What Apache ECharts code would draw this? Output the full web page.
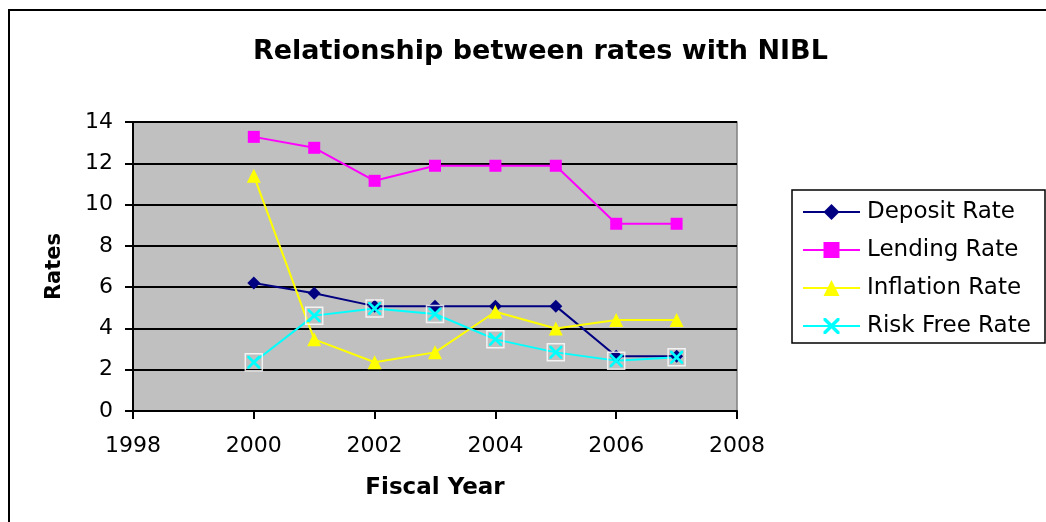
<!DOCTYPE html>
<html>
<head>
<meta charset="utf-8">
<script src="https://cdn.jsdelivr.net/npm/echarts@6/dist/echarts.min.js"></script>
<style>
  html, body { margin: 0; padding: 0; background: #fff; }
  #main { width: 1046px; height: 522px; }
</style>
</head>
<body>
<div id="main"></div>
<script>
// fiscal years and rates
var years = [2000, 2001, 2002, 2003, 2004, 2005, 2006, 2007];
var depositRate = [6.2, 5.7, 5.08, 5.08, 5.08, 5.08, 2.65, 2.65];
var lendingRate = [13.28, 12.75, 11.15, 11.88, 11.88, 11.88, 9.07, 9.07];
var inflationRate = [11.4, 3.47, 2.36, 2.84, 4.81, 4.0, 4.41, 4.41];
var riskFreeRate = [2.36, 4.62, 4.97, 4.7, 3.47, 2.84, 2.44, 2.6];

var seriesNames = ['Deposit Rate', 'Lending Rate', 'Inflation Rate', 'Risk Free Rate'];

function pairs(vals) {
  return years.map(function (y, i) { return [y, vals[i]]; });
}

var chart = echarts.init(document.getElementById('main'));

var xMark = 'path://M0,0 L3,0 L10,7 L17,0 L20,0 L20,3 L13,10 L20,17 L20,20 L17,20 L10,13 L3,20 L0,20 L0,17 L7,10 L0,3 Z';
var font = 'DejaVu Sans';

var option = {
  backgroundColor: '#fff',
  animation: false,
  title: {
    text: 'Relationship between rates with NIBL',
    left: 248,
    top: 33,
    textStyle: { fontFamily: font, fontSize: 27, fontWeight: 'bold', color: '#000' }
  },
  graphic: [{
    // outer chart frame
    type: 'rect',
    shape: { x: 9, y: 10, width: 1100, height: 600 },
    style: { fill: 'none', stroke: '#000', lineWidth: 2 },
    silent: true
  }, {
    // legend box
    type: 'rect',
    shape: { x: 792, y: 190, width: 253, height: 153 },
    style: { fill: '#fff', stroke: '#000', lineWidth: 1.5 },
    silent: true,
    z: -1
  }],
  legend: {
    data: seriesNames,
    orient: 'vertical',
    left: 802,
    top: 200,
    padding: 0,
    itemGap: 14,
    itemWidth: 57,
    itemHeight: 20,
    textStyle: { fontFamily: font, fontSize: 23, lineHeight: 24, color: '#000', padding: [0, 0, 0, 2] }
  },
  grid: {
    left: 133,
    right: 309,
    top: 122,
    bottom: 111,
    show: true,
    backgroundColor: '#c0c0c0',
    borderColor: '#808080',
    borderWidth: 1.5
  },
  xAxis: {
    type: 'value',
    min: 1998,
    max: 2008,
    interval: 2,
    name: 'Fiscal Year',
    nameLocation: 'middle',
    nameGap: 66,
    nameTextStyle: { fontFamily: font, fontSize: 23, fontWeight: 'bold', color: '#000' },
    axisLine: { lineStyle: { color: '#000', width: 2 } },
    axisTick: { inside: false, length: 8, lineStyle: { color: '#000', width: 2 } },
    axisLabel: { fontFamily: font, fontSize: 22, color: '#000', margin: 24, formatter: function (v) { return String(v); } },
    splitLine: { show: false }
  },
  yAxis: {
    type: 'value',
    min: 0,
    max: 14,
    interval: 2,
    name: 'Rates',
    nameLocation: 'middle',
    nameGap: 68,
    nameRotate: 90,
    nameTextStyle: { fontFamily: font, fontSize: 21, fontWeight: 'bold', color: '#000' },
    axisLine: { show: true, lineStyle: { color: '#000', width: 2 } },
    axisTick: { show: true, inside: false, length: 8, lineStyle: { color: '#000', width: 2 } },
    axisLabel: { fontFamily: font, fontSize: 22, color: '#000', margin: 20 },
    splitLine: { lineStyle: { color: '#000', width: 2 } }
  },
  series: [
    {
      name: 'Deposit Rate', type: 'line', data: pairs(depositRate),
      symbol: 'diamond', symbolSize: 13,
      lineStyle: { color: '#000080', width: 2 },
      itemStyle: { color: '#000080' }
    },
    {
      name: 'Lending Rate', type: 'line', data: pairs(lendingRate),
      symbol: 'rect', symbolSize: 12,
      lineStyle: { color: '#ff00ff', width: 2 },
      itemStyle: { color: '#ff00ff' }
    },
    {
      name: 'Inflation Rate', type: 'line', data: pairs(inflationRate),
      symbol: 'triangle', symbolSize: 14,
      lineStyle: { color: '#ffff00', width: 2 },
      itemStyle: { color: '#ffff00' }
    },
    {
      name: 'Risk Free Rate', type: 'line', data: pairs(riskFreeRate),
      symbol: xMark, symbolSize: 13,
      lineStyle: { color: '#00ffff', width: 2 },
      itemStyle: { color: '#00ffff' }
    },
    {
      // white square boxes drawn around the risk free markers
      name: 'riskBox', type: 'scatter', data: pairs(riskFreeRate),
      symbol: 'rect', symbolSize: 17, silent: true,
      itemStyle: { color: 'rgba(0,0,0,0)', borderColor: '#fff', borderWidth: 1.5 },
      z: 3
    }
  ]
};

chart.setOption(option);
</script>
</body>
</html>
